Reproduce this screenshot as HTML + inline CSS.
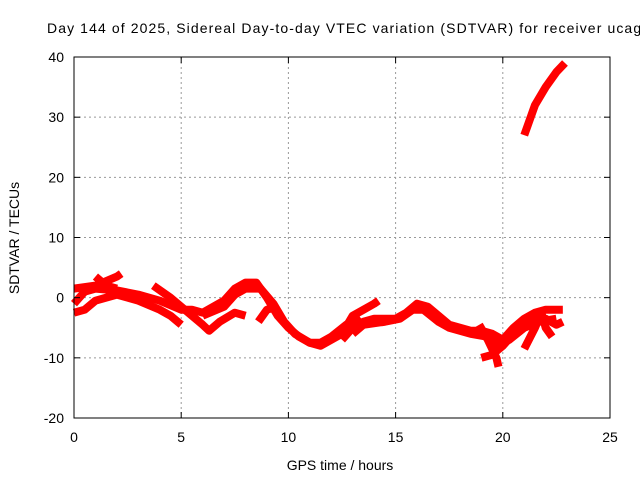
<!DOCTYPE html>
<html><head><meta charset="utf-8"><style>
body{margin:0;background:#fff;}
svg text{font-family:"Liberation Sans",sans-serif;font-size:14px;fill:#000;}
</style></head><body>
<svg id="chart" width="640" height="480" viewBox="0 0 640 480">
<rect width="640" height="480" fill="#fff"/>
<text x="47" y="33" style="font-size:14px;letter-spacing:1.1px">Day 144 of 2025, Sidereal Day-to-day VTEC variation (SDTVAR) for receiver ucag</text>
<g id="grid"></g><g id="marks"></g><g id="axes"></g>
<text x="340" y="470" text-anchor="middle">GPS time / hours</text>
<text transform="translate(19,238) rotate(-90)" text-anchor="middle">SDTVAR / TECUs</text>
</svg>
<script>
const xTicks=[0,5,10,15,20,25];
const yTicks=[-20,-10,0,10,20,30,40];
const trackA=[[0,-1],[0.5,1],[1,1.5],[2,1.2],[3,0.5],[4,-0.5],[5,-2],[5.5,-2],[6,-2.5],[7,-0.5],[7.5,1.5],[8,2.5],[8.5,2.5],[9,0],[9.5,-3],[10,-5],[10.5,-6.5],[11,-7.5],[11.5,-8],[12,-7],[12.5,-6],[13,-3],[13.5,-2],[14,-1],[14.2,-0.5]];
const trackA2=[[6,-3],[7,-1.5],[7.5,0.5],[8,1.5],[8.7,1.5],[9.3,-1],[9.8,-4],[10.3,-6],[11,-7.5],[11.5,-7.5],[12,-6.5],[12.7,-4.5],[13.3,-3]];
const trackB=[[12.5,-7],[13,-5],[13.5,-4],[14,-3.5],[15,-3.5],[15.5,-2.5],[16,-1],[16.5,-1.5],[17,-3],[17.5,-4.5],[18,-5],[18.5,-5.5],[19,-5.5],[19.5,-6],[20,-7],[20.5,-5],[21,-3.5],[21.5,-2.5],[22,-2],[22.5,-2],[22.8,-2]];
const trackB2=[[13,-6],[13.5,-4.5],[14.5,-4],[15.2,-3.5],[15.8,-2],[16.3,-2],[17,-4],[17.5,-5],[18.5,-6],[19.3,-6.5],[19.8,-8],[20.3,-7],[21,-5],[21.7,-4],[22.5,-3.5]];
const trackC=[[0,-2.5],[0.5,-2],[1,-0.5],[2,0.5],[3,-0.5],[4,-2],[4.5,-3],[5,-4.5]];
const trackD=[[3.7,2],[4.5,0],[5,-1.5],[5.5,-3],[6,-4.5],[6.3,-5.5],[6.8,-4],[7.5,-2.5],[8,-3]];
const trackE=[[0,1.5],[1,2],[2,3.5],[2.2,4]];
const trackF=[[1,3.5],[1.5,2],[2,1.5]];
const trackG=[[8.6,-4],[9,-2],[9.5,-1.5]];
const trackH=[[19,-10],[19.5,-9.5],[20,-8],[20.5,-6],[21,-4],[22,-3.5],[22.5,-4.5],[22.8,-4]];
const trackI=[[21,-8.5],[21.5,-5],[21.8,-2.5],[22,-5],[22.3,-6.5]];
const trackJ=[[21,27],[21.2,29],[21.5,32],[22,35],[22.5,37.5],[22.9,39]];
const trackK=[[18.9,-4.5],[19.3,-7],[19.7,-10],[19.8,-11.5]];
const tracks=[trackA,trackA2,trackB,trackB2,trackC,trackD,trackE,trackF,trackG,trackH,trackI,trackJ,trackK];
const L=74,R=610,T=57,B=418;
const xs=h=>L+(h-0)/(25-0)*(R-L);
const ys=v=>B-(v+20)/60*(B-T);
const NS="http://www.w3.org/2000/svg";
const grid=document.getElementById('grid'),axes=document.getElementById('axes'),marks=document.getElementById('marks');
function mk(tag,attrs,parent){const e=document.createElementNS(NS,tag);for(const k in attrs)e.setAttribute(k,attrs[k]);parent.appendChild(e);return e;}
xTicks.forEach(t=>{const x=xs(t);
 if(t>0&&t<25){const g=mk('line',{x1:x,x2:x,y1:T,y2:B,stroke:'#999','stroke-dasharray':'2,3'},grid);
 
 }
 mk('line',{x1:x,x2:x,y1:B,y2:B-6,stroke:'#000'},axes);mk('line',{x1:x,x2:x,y1:T,y2:T+6,stroke:'#000'},axes);
 const tx=mk('text',{x:x,y:B+24,'text-anchor':'middle'},axes);tx.textContent=t;
 
 });
yTicks.forEach(t=>{const y=ys(t);
 if(t>-20&&t<40){const g=mk('line',{x1:L,x2:R,y1:y,y2:y,stroke:'#999','stroke-dasharray':'2,3'},grid);
 
 }
 mk('line',{x1:L,x2:L+6,y1:y,y2:y,stroke:'#000'},axes);mk('line',{x1:R,x2:R-6,y1:y,y2:y,stroke:'#000'},axes);
 const tx=mk('text',{x:L-10,y:y+5,'text-anchor':'end'},axes);tx.textContent=t;
 
 });
const border=mk('rect',{x:L,y:T,width:R-L,height:B-T,fill:'none',stroke:'#000'},axes);


tracks.forEach(tr=>{const p=mk('polyline',{points:tr.map(d=>xs(d[0])+','+ys(d[1])).join(' '),fill:'none',stroke:'#f00','stroke-width':8,'stroke-linejoin':'round','stroke-linecap':'butt'},marks);
 
 });
</script>
</body></html>
